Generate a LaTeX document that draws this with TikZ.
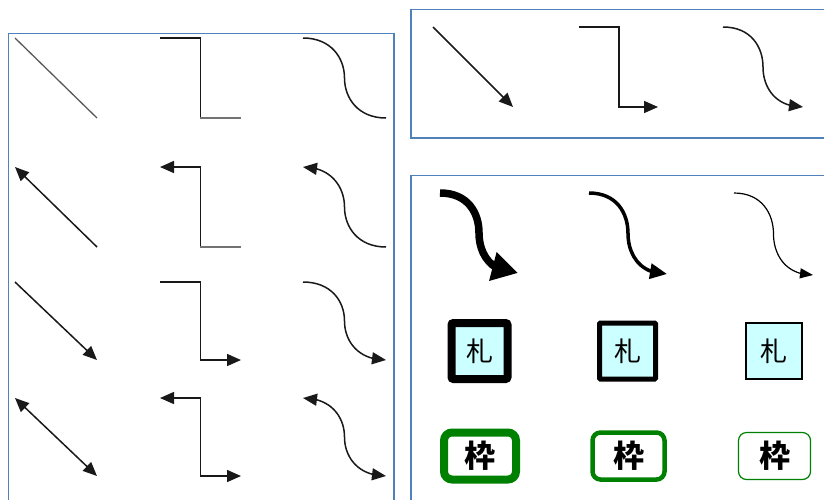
\documentclass[tikz,border=0pt]{standalone}
\usepackage{fontspec}
\newfontfamily\cjk{Noto Sans CJK JP}
\usetikzlibrary{arrows.meta,bending,calc}
\definecolor{panelblue}{HTML}{4F81BD}
\definecolor{fudacyan}{HTML}{CCFFFF}
\definecolor{wakugreen}{HTML}{008000}
\begin{document}
\begin{tikzpicture}[x=1pt,y=-1pt,
  panel/.style={draw=panelblue,line width=1.3pt},
  conn/.style={line width=1.5pt,black!90,>={Triangle[length=14pt,width=12pt]}},
  stub/.style={line width=2.6pt,black!55},
  scurve/.style={to path={.. controls +(28,0) and +(0,-20) .. ($(\tikztostart)!0.5!(\tikztotarget)$) .. controls +(0,20) and +(-28,0) .. (\tikztotarget)}},
  fuda/.style={draw=black,fill=fudacyan,minimum width=56pt,minimum height=56pt,inner sep=0pt,font=\cjk\fontsize{27}{27}\selectfont},
  waku/.style={draw=wakugreen,fill=white,rounded corners=8pt,minimum width=72pt,minimum height=47pt,inner sep=0pt,font=\cjk\bfseries\fontsize{31}{31}\selectfont}]
\useasboundingbox (0,0) rectangle (824,499);
\clip (0,0) rectangle (824,499);
% panels
\draw[panel] (8.5,33.5) rectangle (394,520);
\draw[panel] (411,9.5) rectangle (840,138);
\draw[panel] (411,175.5) rectangle (840,520);
% left panel coordinates
\foreach \r/\ya/\yb in {1/38/118,2/167/247,3/282/360,4/398/476}{
  \coordinate (d\r s) at (15,\ya); \coordinate (d\r e) at (97,\yb);
  \coordinate (e\r s) at (160,\ya); \coordinate (e\r e) at (241,\yb);
  \coordinate (c\r s) at (303,\ya); \coordinate (c\r e) at (386,\yb);
}
% row 1
\draw[conn,black!65,line width=1.3pt] (d1s) -- (d1e);
\draw[conn] (e1s) -| ($(e1s)!0.5!(e1e)$) |- (e1e);
\draw[stub] (e1e -| e1s) ++(40,0) -- (e1e);
\draw[conn] (c1s) to[scurve] (c1e);
% row 2
\draw[conn,<-] (d2s) -- (d2e);
\draw[conn,<-] (e2s) -| ($(e2s)!0.5!(e2e)$) |- (e2e);
\draw[stub] (e2e -| e2s) ++(40,0) -- (e2e);
\draw[conn,<-] (c2s) to[scurve] (c2e);
% row 3
\draw[conn,->] (d3s) -- (d3e);
\draw[stub,shorten >=13pt] (e3e -| e3s) ++(40,0) -- (e3e);
\draw[conn,->] (e3s) -| ($(e3s)!0.5!(e3e)$) |- (e3e);
\draw[conn,->] (c3s) to[scurve] (c3e);
% row 4
\draw[conn,<->] (d4s) -- (d4e);
\draw[stub,shorten >=13pt] (e4e -| e4s) ++(40,0) -- (e4e);
\draw[conn,<->] (e4s) -| ($(e4s)!0.5!(e4e)$) |- (e4e);
\draw[conn,<->] (c4s) to[scurve] (c4e);
% top right panel
\coordinate (td s) at (433,27); \coordinate (td e) at (513,107);
\coordinate (te s) at (579,27); \coordinate (te e) at (658,107);
\coordinate (tc s) at (723,27); \coordinate (tc e) at (803,107);
\draw[conn,->] (td s) -- (td e);
\draw[stub,shorten >=13pt] (619,107) -- (te e);
\draw[conn,->] (te s) -| (619,67) |- (te e);
\draw[conn,->] (tc s) to[scurve] (tc e);
% bottom right curves
\coordinate (b1s) at (440,193); \coordinate (b1e) at (518,273);
\coordinate (b2s) at (589,193); \coordinate (b2e) at (667,274);
\coordinate (b3s) at (734,193); \coordinate (b3e) at (813,275);
\draw[line width=7.5pt,-{Triangle[length=26pt,width=28pt]}] (b1s) to[scurve] (b1e);
\draw[line width=3.5pt,-{Triangle[length=17pt,width=15pt]}] (b2s) to[scurve] (b2e);
\draw[line width=1.2pt,-{Triangle[length=13pt,width=10pt]}] (b3s) to[scurve] (b3e);
% fuda boxes
\node[fuda,line width=8pt,rounded corners=2pt] (f1) at (479.5,351) {札};
\node[fuda,line width=5pt,rounded corners=1pt] (f2) at (627.5,351) {札};
\node[fuda,line width=1.5pt] (f3) at (774,351) {札};
% waku boxes
\node[waku,line width=8pt] (w1) at (480,456) {枠};
\node[waku,line width=4.5pt] (w2) at (628.5,456) {枠};
\node[waku,line width=1.2pt] (w3) at (774.5,456) {枠};
\end{tikzpicture}
\end{document}
